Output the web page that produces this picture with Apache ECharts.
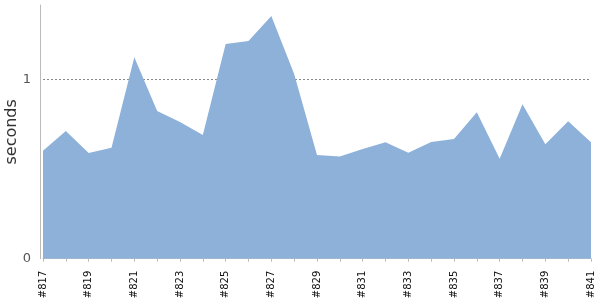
<!DOCTYPE html>
<html>
<head>
<meta charset="utf-8">
<script src="https://cdn.jsdelivr.net/npm/echarts@6/dist/echarts.min.js"></script>
<style>html,body{margin:0;padding:0;background:#fff}#c{width:600px;height:300px}</style>
</head>
<body>
<div id="c"></div>
<script>
var categories = ['#817','#818','#819','#820','#821','#822','#823','#824','#825','#826','#827','#828','#829','#830','#831','#832','#833','#834','#835','#836','#837','#838','#839','#840','#841'];
var seconds = [0.602,0.712,0.589,0.619,1.123,0.823,0.762,0.690,1.197,1.213,1.353,1.030,0.578,0.569,0.611,0.649,0.591,0.651,0.667,0.816,0.557,0.861,0.638,0.766,0.649];
var yTicks = [0, 1];

var chart = echarts.init(document.getElementById('c'), null, {renderer: 'canvas'});
chart.setOption({
  animation: false,
  grid: {left: 43, right: 9, top: 5, bottom: 41.3, containLabel: false, outerBoundsMode: 'none'},
  xAxis: {
    type: 'category',
    data: categories,
    boundaryGap: false,
    offset: 4,
    axisLine: {lineStyle: {color: '#bbbbbb'}},
    axisTick: {show: true, length: 3, interval: 0, lineStyle: {color: '#bbbbbb'}},
    axisLabel: {
      rotate: 90, interval: 1, margin: 8,
      fontFamily: 'DejaVu Sans', fontSize: 10, color: '#111'
    },
    splitLine: {show: false}
  },
  yAxis: {
    type: 'value',
    min: 0, max: 1.414, interval: 1,
    offset: 3,
    name: 'seconds',
    nameLocation: 'middle',
    nameGap: 20,
    nameMoveOverlap: false,
    nameTextStyle: {fontFamily: 'DejaVu Sans', fontSize: 16, color: '#333'},
    axisLine: {show: true, lineStyle: {color: '#bbbbbb'}},
    axisTick: {show: false},
    axisLabel: {
      margin: 9, fontFamily: 'DejaVu Sans', fontSize: 13, color: '#555',
      showMaxLabel: false,
      formatter: function (v) { return yTicks.indexOf(v) >= 0 ? String(v) : ''; }
    },
    splitLine: {show: true, showMinLine: false, showMaxLine: false,
      lineStyle: {color: '#888', type: [2, 2], width: 1}}
  },
  series: [{
    type: 'line',
    data: seconds,
    symbol: 'none',
    lineStyle: {width: 0, color: '#8eb1da'},
    itemStyle: {color: '#8eb1da'},
    areaStyle: {color: '#8eb1da', opacity: 1}
  }]
});
</script>
</body>
</html>
